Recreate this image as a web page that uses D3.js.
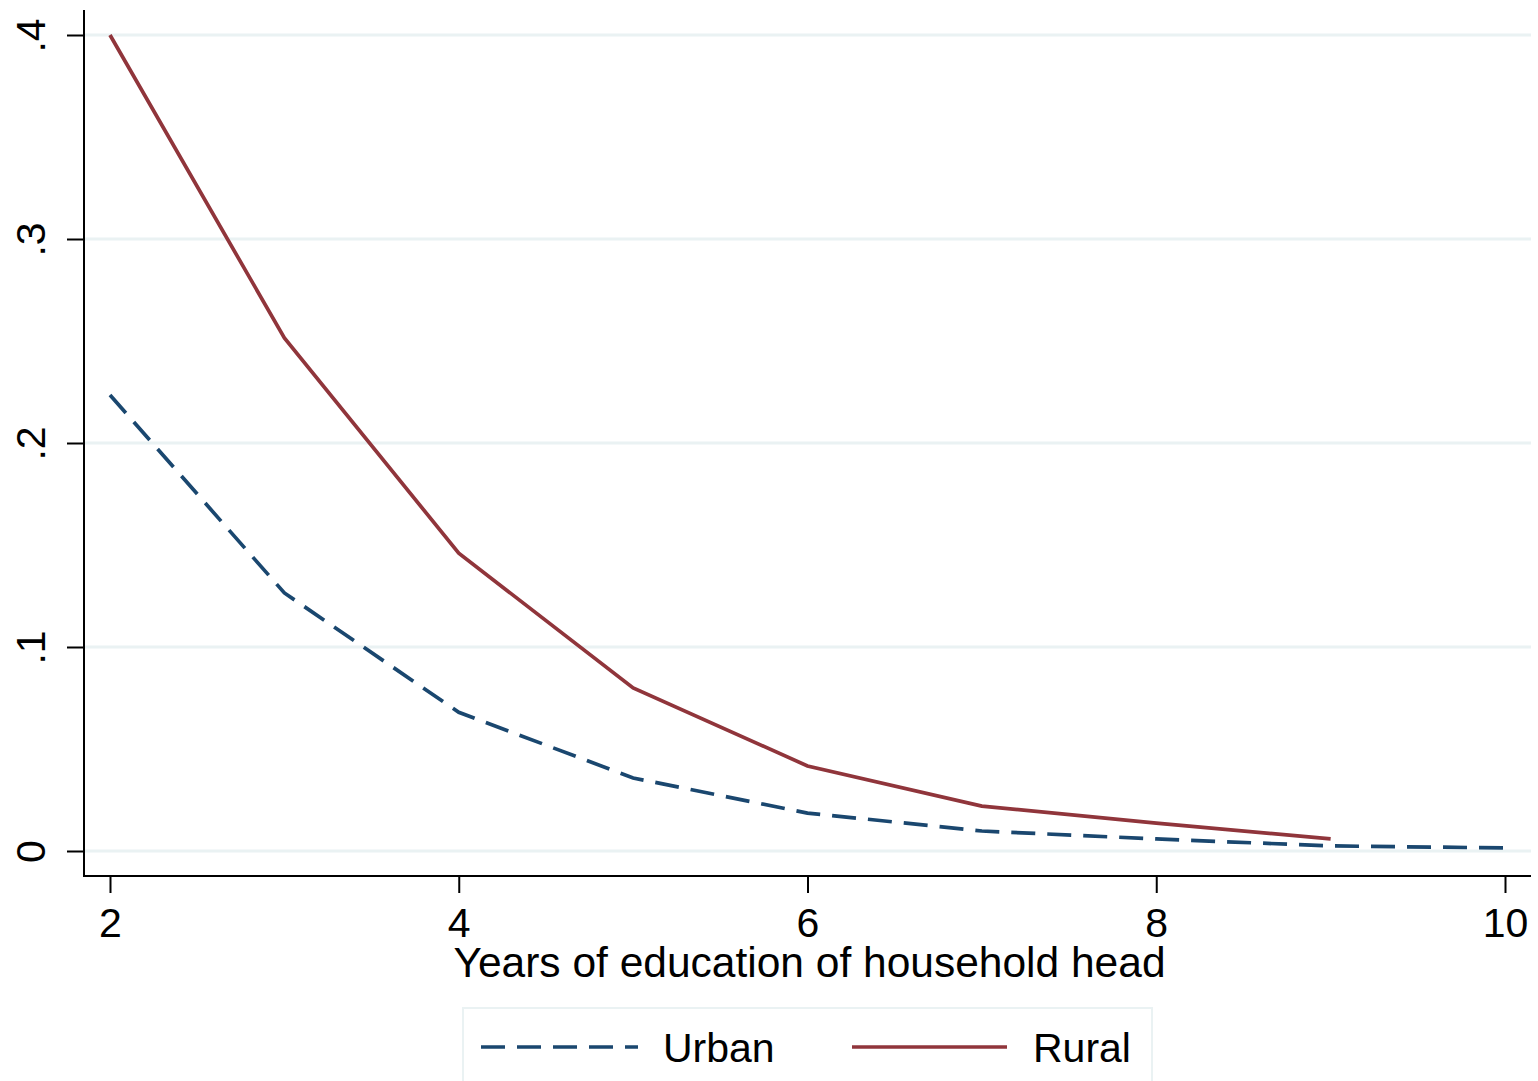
<!DOCTYPE html>
<html>
<head>
<meta charset="utf-8">
<script src="https://cdn.jsdelivr.net/npm/d3@7"></script>
<style>
  html, body { margin: 0; padding: 0; background: #fff; }
  svg { display: block; }
  text { font-family: "Liberation Sans", Arial, sans-serif; fill: #000; }
</style>
</head>
<body>
<script>
const years = [2, 3, 4, 5, 6, 7, 8, 9, 10];
const urbanValues = [0.2235, 0.1265, 0.068, 0.0358, 0.0186, 0.0098, 0.0059, 0.0025, 0.0015];
const ruralYears = [2, 3, 4, 5, 6, 7, 8, 9];
const ruralValues = [0.400, 0.2515, 0.146, 0.0799, 0.0417, 0.0220, 0.0137, 0.0059];
const xTicks = [2, 4, 6, 8, 10];
const yTicks = [0, 0.1, 0.2, 0.3, 0.4];
const yTickLabels = ["0", ".1", ".2", ".3", ".4"];
const seriesNames = ["Urban", "Rural"];
const xTitle = "Years of education of household head";

const W = 1538, H = 1081;
const navy = "#1a476f", maroon = "#90353b", grid = "#eaf2f3";

const svg = d3.select("body").append("svg").attr("width", W).attr("height", H);

const x = d3.scaleLinear().domain([2, 10]).range([110, 1505]);
const y = d3.scaleLinear().domain([0, 0.4]).range([851, 35]);

const plotLeft = 84, plotRight = 1531, plotTop = 10, plotBottom = 876;

// grid lines
svg.append("g").selectAll("line").data(yTicks).join("line")
  .attr("x1", plotLeft + 1).attr("x2", plotRight)
  .attr("y1", d => y(d)).attr("y2", d => y(d))
  .attr("stroke", grid).attr("stroke-width", 3);

// lines
const lineGen = d3.line().x(d => x(d[0])).y(d => y(d[1]));
svg.append("path")
  .datum(years.map((v, i) => [v, urbanValues[i]]))
  .attr("d", lineGen).attr("fill", "none")
  .attr("stroke", navy).attr("stroke-width", 3.7)
  .attr("stroke-dasharray", "24,12");
svg.append("path")
  .datum(ruralYears.map((v, i) => [v, ruralValues[i]]))
  .attr("d", lineGen).attr("fill", "none")
  .attr("stroke", maroon).attr("stroke-width", 3.7);

// Y axis
const yAxis = d3.axisLeft(y).tickValues(yTicks).tickSize(17)
  .tickFormat((d, i) => yTickLabels[i]);
const gy = svg.append("g").attr("transform", `translate(${plotLeft},0)`).call(yAxis);
gy.select(".domain").remove();
gy.selectAll(".tick line").attr("stroke", "#000").attr("stroke-width", 2);
gy.selectAll(".tick text").remove();
gy.selectAll(".tick").append("text")
  .attr("transform", "translate(-39,0) rotate(-90)")
  .attr("text-anchor", "middle")
  .attr("font-size", 41)
  .text((d, i) => yTickLabels[i]);
svg.append("line").attr("x1", plotLeft).attr("x2", plotLeft)
  .attr("y1", plotTop).attr("y2", plotBottom + 1)
  .attr("stroke", "#000").attr("stroke-width", 2);

// X axis
const xAxis = d3.axisBottom(x).tickValues(xTicks).tickSize(17).tickFormat(d3.format("d"));
const gx = svg.append("g").attr("transform", `translate(0,${plotBottom})`).call(xAxis);
gx.select(".domain").remove();
gx.selectAll(".tick line").attr("stroke", "#000").attr("stroke-width", 2);
gx.selectAll(".tick text").attr("font-size", 41).attr("y", 61).attr("dy", 0)
  .attr("font-family", "'Liberation Sans', Arial, sans-serif");
svg.append("line").attr("x1", plotLeft - 1).attr("x2", plotRight)
  .attr("y1", plotBottom).attr("y2", plotBottom)
  .attr("stroke", "#000").attr("stroke-width", 2);

// X title
svg.append("text").attr("x", 809.5).attr("y", 977)
  .attr("text-anchor", "middle").attr("font-size", 42.5).text(xTitle);

// Legend
const lg = svg.append("g");
lg.append("rect").attr("x", 463).attr("y", 1008).attr("width", 689).attr("height", 90)
  .attr("fill", "#fff").attr("stroke", grid).attr("stroke-width", 2);
const legendItems = [
  { name: seriesNames[0], color: navy, dash: "24,12", x0: 481, x1: 638, tx: 663 },
  { name: seriesNames[1], color: maroon, dash: null, x0: 852, x1: 1007, tx: 1033 }
];
legendItems.forEach(it => {
  lg.append("line").attr("x1", it.x0).attr("x2", it.x1).attr("y1", 1047).attr("y2", 1047)
    .attr("stroke", it.color).attr("stroke-width", 3.7)
    .attr("stroke-dasharray", it.dash);
  lg.append("text").attr("x", it.tx).attr("y", 1062).attr("font-size", 41).text(it.name);
});
</script>
</body>
</html>
